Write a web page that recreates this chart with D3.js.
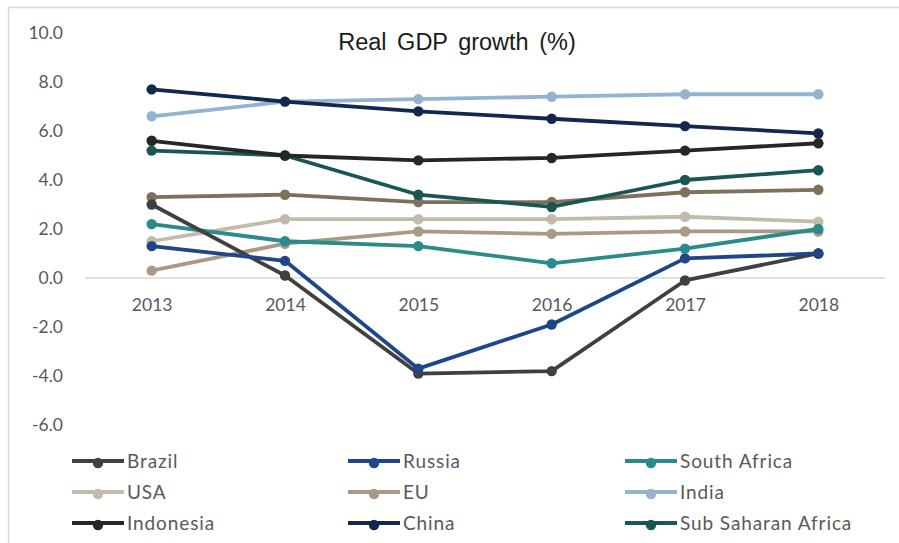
<!DOCTYPE html>
<html>
<head>
<meta charset="utf-8">
<script src="https://cdn.jsdelivr.net/npm/d3@7"></script>
<style>
  body { margin: 0; background: #fff; }
  svg { display: block; }
</style>
</head>
<body>
<svg id="chart"></svg>
<script>
var width = 899;
var height = 543;
var margins = { left: 85, right: 14, top: 33, bottom: 118 };

// data
var years = ["2013", "2014", "2015", "2016", "2017", "2018"];
var yTicks = [-6, -4, -2, 0, 2, 4, 6, 8, 10];

var brazil    = [3.0, 0.1, -3.9, -3.8, -0.1, 1.0];
var russia    = [1.3, 0.7, -3.7, -1.9, 0.8, 1.0];
var southAfr  = [2.2, 1.5, 1.3, 0.6, 1.2, 2.0];
var usa       = [1.5, 2.4, 2.4, 2.4, 2.5, 2.3];
var eu        = [0.3, 1.4, 1.9, 1.8, 1.9, 1.9];
var india     = [6.6, 7.2, 7.3, 7.4, 7.5, 7.5];
var indonesia = [5.6, 5.0, 4.8, 4.9, 5.2, 5.5];
var china     = [7.7, 7.2, 6.8, 6.5, 6.2, 5.9];
var ssa       = [5.2, 5.0, 3.4, 2.9, 4.0, 4.4];
var world     = [3.3, 3.4, 3.1, 3.1, 3.5, 3.6]; // line is drawn but its legend entry is cut off in the original

var seriesNames = ["Brazil", "Russia", "South Africa", "USA", "EU", "India", "Indonesia", "China", "Sub Saharan Africa"];

var series = [
  { name: "World", values: world, color: "#7d715e" },
  { name: "EU", values: eu, color: "#a89a87" },
  { name: "USA", values: usa, color: "#c3baac" },
  { name: "South Africa", values: southAfr, color: "#2b8a8a" },
  { name: "Brazil", values: brazil, color: "#404040" },
  { name: "Russia", values: russia, color: "#1f4686" },
  { name: "Sub Saharan Africa", values: ssa, color: "#1a5653" },
  { name: "Indonesia", values: indonesia, color: "#262626" },
  { name: "India", values: india, color: "#94b3d1" },
  { name: "China", values: china, color: "#14274e" }
];

var labelFont = "Lato, 'Liberation Sans', sans-serif";

var svg = d3.select("#chart")
    .attr("width", width)
    .attr("height", height);

// light frame, only top and left edges show in the picture
svg.append("rect")
    .attr("x", 8.5).attr("y", 7.5)
    .attr("width", width + 10).attr("height", height + 10)
    .attr("fill", "none")
    .attr("stroke", "#d9d9d9")
    .attr("stroke-width", 1.5);

var xscale = d3.scalePoint()
    .domain(years)
    .range([0, width - margins.left - margins.right])
    .padding(0.5);

// 10 sits at y=33 and -6 at y=425
var yscale = d3.scaleLinear()
    .domain([-6, 10])
    .range([425 - margins.top, 0]);

var g = svg.append("g")
    .attr("transform", "translate(" + margins.left + "," + margins.top + ")");

// y tick labels, plain hyphen for negatives like the original
var yaxis = d3.axisLeft(yscale)
    .tickValues(yTicks)
    .tickFormat(function(d) { return d.toFixed(1); })
    .tickSize(0)
    .tickPadding(22);
g.append("g")
    .call(yaxis)
    .call(function(s) { s.select(".domain").remove(); })
    .selectAll("text")
    .attr("fill", "#595959")
    .style("font-family", labelFont)
    .style("font-size", "17.5px");

// zero line
g.append("line")
    .attr("x1", 0).attr("x2", width - margins.left - margins.right)
    .attr("y1", yscale(0)).attr("y2", yscale(0))
    .attr("stroke", "#d9d9d9")
    .attr("stroke-width", 1.5);

// year labels under the zero line
var xaxis = d3.axisBottom(xscale).tickSize(0).tickPadding(21);
g.append("g")
    .attr("transform", "translate(0," + yscale(0) + ")")
    .call(xaxis)
    .call(function(s) { s.select(".domain").remove(); })
    .selectAll("text")
    .attr("fill", "#595959")
    .style("font-family", labelFont)
    .style("font-size", "17.5px");

var line = d3.line()
    .x(function(d, i) { return xscale(years[i]); })
    .y(function(d) { return yscale(d); });

series.forEach(function(s) {
  g.append("path")
      .datum(s.values)
      .attr("d", line)
      .attr("fill", "none")
      .attr("stroke", s.color)
      .attr("stroke-width", 3.8)
      .attr("stroke-linejoin", "round");
  g.selectAll(null)
      .data(s.values)
      .enter().append("circle")
      .attr("cx", function(d, i) { return xscale(years[i]); })
      .attr("cy", function(d) { return yscale(d); })
      .attr("r", 5.2)
      .attr("fill", s.color);
});

// title
svg.append("text")
    .attr("x", 457).attr("y", 50)
    .attr("text-anchor", "middle")
    .attr("fill", "#1a1a1a")
    .style("font-family", "'Liberation Sans', Arial, sans-serif")
    .style("font-size", "23.5px")
    .style("word-spacing", "4px")
    .text("Real GDP growth (%)");

// legend, 3 columns x 3 rows
var legendCols = [72, 348, 625];
var legendRows = [461, 492, 523];
var legend = svg.append("g");
seriesNames.forEach(function(name, i) {
  var s = series.filter(function(d) { return d.name === name; })[0];
  var x = legendCols[i % 3];
  var y = legendRows[Math.floor(i / 3)];
  var item = legend.append("g").attr("transform", "translate(" + x + "," + y + ")");
  item.append("line")
      .attr("x1", 0).attr("x2", 52)
      .attr("y1", 0).attr("y2", 0)
      .attr("stroke", s.color)
      .attr("stroke-width", 3.8);
  item.append("circle")
      .attr("cx", 26).attr("cy", 2).attr("r", 5.2)
      .attr("fill", s.color);
  item.append("text")
      .attr("x", 55).attr("y", 7)
      .attr("fill", "#595959")
      .style("font-family", labelFont)
      .style("font-size", "19px")
      .style("letter-spacing", "0.9px")
      .text(name);
});
</script>
</body>
</html>
